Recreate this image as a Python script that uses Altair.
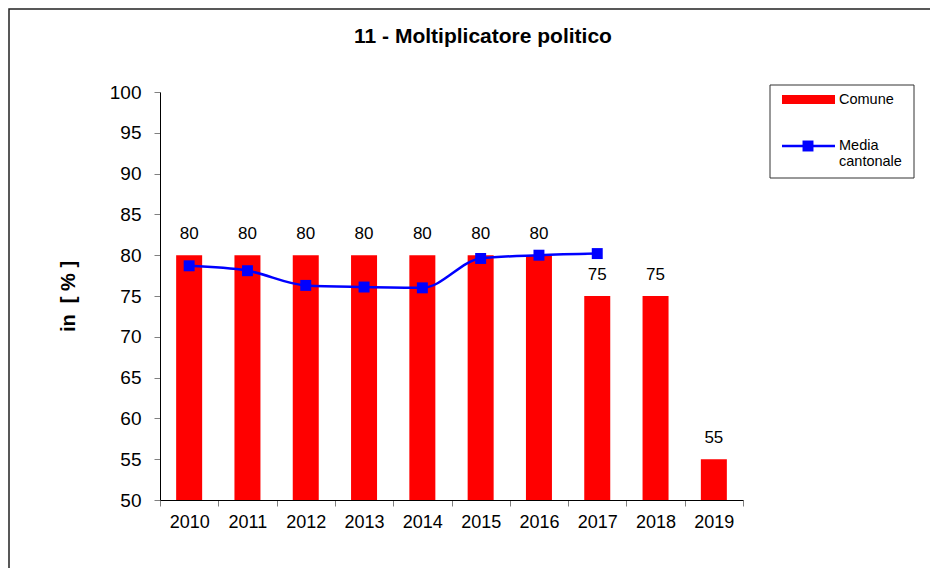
import altair as alt
import pandas as pd

years = ["2010", "2011", "2012", "2013", "2014", "2015", "2016", "2017", "2018", "2019"]
comune = [80, 80, 80, 80, 80, 80, 80, 75, 75, 55]
media_years = ["2010", "2011", "2012", "2013", "2014", "2015", "2016", "2017"]
media = [78.7, 78.1, 76.3, 76.1, 76.0, 79.6, 80.0, 80.2]
y_ticks = [50, 55, 60, 65, 70, 75, 80, 85, 90, 95, 100]

title_text = "11 - Moltiplicatore politico"
y_title = "in\u00a0\u00a0[ % ]"
legend_labels = ["Comune", "Media", "cantonale"]

FONT = "Liberation Sans"
RED = "#FF0000"
BLUE = "#0000FF"

bars_df = pd.DataFrame({"anno": years, "valore": comune})
line_df = pd.DataFrame({"anno": media_years, "media": media})
one = pd.DataFrame({"k": [0]})

x_enc = alt.X(
    "anno:N",
    sort=years,
    scale=alt.Scale(paddingInner=0, paddingOuter=0),
    axis=alt.Axis(
        title=None,
        labelAngle=0,
        labelFontSize=18,
        labelFont=FONT,
        labelColor="#000000",
        labelPadding=7,
        tickBand="extent",
        tickSize=6,
        tickColor="#808080",
        domainColor="#000000",
        domainWidth=1,
    ),
)
y_scale = alt.Scale(domain=[50, 100], zero=False, nice=False)

bars = alt.Chart(bars_df).mark_bar(color=RED, size=26).encode(
    x=x_enc,
    y=alt.Y(
        "valore:Q",
        scale=y_scale,
        axis=alt.Axis(
            values=y_ticks,
            title=y_title,
            titleFont=FONT,
            titleFontSize=20,
            titleFontWeight="bold",
            titleColor="#000000",
            titleAngle=270,
            titleX=-92,
            titleY=204,
            titleAlign="center",
            titleBaseline="middle",
            labelFontSize=19,
            labelFont=FONT,
            labelColor="#000000",
            labelPadding=13,
            tickSize=6,
            tickColor="#808080",
            domainColor="#000000",
            domainWidth=1,
            grid=False,
        ),
    ),
    y2=alt.datum(50),
)

labels = alt.Chart(bars_df).mark_text(
    dy=-21, baseline="middle", fontSize=17, font=FONT, color="#000000"
).encode(x=alt.X("anno:N", sort=years), y=alt.Y("valore:Q", scale=y_scale), text="valore:Q")

line = alt.Chart(line_df).mark_line(
    color=BLUE, strokeWidth=2.5, interpolate="monotone"
).encode(x=alt.X("anno:N", sort=years), y=alt.Y("media:Q", scale=y_scale))

points = alt.Chart(line_df).mark_point(
    shape="square", filled=True, size=120, color=BLUE, opacity=1
).encode(x=alt.X("anno:N", sort=years), y=alt.Y("media:Q", scale=y_scale))

# decorations: outer frame, title, legend
frame = alt.Chart(one).mark_rect(fill=None, stroke="#222222", strokeWidth=1.5).encode(
    x=alt.value(-151), x2=alt.value(900), y=alt.value(-83), y2=alt.value(700)
)
title = alt.Chart(one).mark_text(
    text=title_text, fontSize=21, fontWeight="bold", font=FONT, color="#000000",
    align="center", baseline="middle",
).encode(x=alt.value(323), y=alt.value(-55))

leg_box = alt.Chart(one).mark_rect(fill="white", stroke="#333333", strokeWidth=1).encode(
    x=alt.value(610), x2=alt.value(754), y=alt.value(-7), y2=alt.value(86)
)
leg_red = alt.Chart(one).mark_rect(fill=RED).encode(
    x=alt.value(622), x2=alt.value(675), y=alt.value(3), y2=alt.value(12)
)
leg_line = alt.Chart(one).mark_rule(color=BLUE, strokeWidth=2.5).encode(
    x=alt.value(622), x2=alt.value(675), y=alt.value(54)
)
leg_sq = alt.Chart(one).mark_point(shape="square", filled=True, size=120, color=BLUE, opacity=1).encode(
    x=alt.value(648), y=alt.value(54)
)
leg_t1 = alt.Chart(one).mark_text(text=legend_labels[0], fontSize=14.5, font=FONT, align="left", baseline="middle", color="#000000").encode(
    x=alt.value(679), y=alt.value(8)
)
leg_t2 = alt.Chart(one).mark_text(text=legend_labels[1], fontSize=14.5, font=FONT, align="left", baseline="middle", color="#000000").encode(
    x=alt.value(679), y=alt.value(54)
)
leg_t3 = alt.Chart(one).mark_text(text=legend_labels[2], fontSize=14.5, font=FONT, align="left", baseline="middle", color="#000000").encode(
    x=alt.value(679), y=alt.value(70)
)

chart = alt.layer(
    frame, title, bars, labels, line, points,
    leg_box, leg_red, leg_line, leg_sq, leg_t1, leg_t2, leg_t3,
).properties(
    width=583,
    height=408,
    padding={"left": 152, "top": 84, "right": 187, "bottom": 68},
    autosize=alt.AutoSizeParams(type="none"),
).configure_view(stroke=None)

chart.save("out.html", embed_options={"renderer": "svg", "actions": False})
